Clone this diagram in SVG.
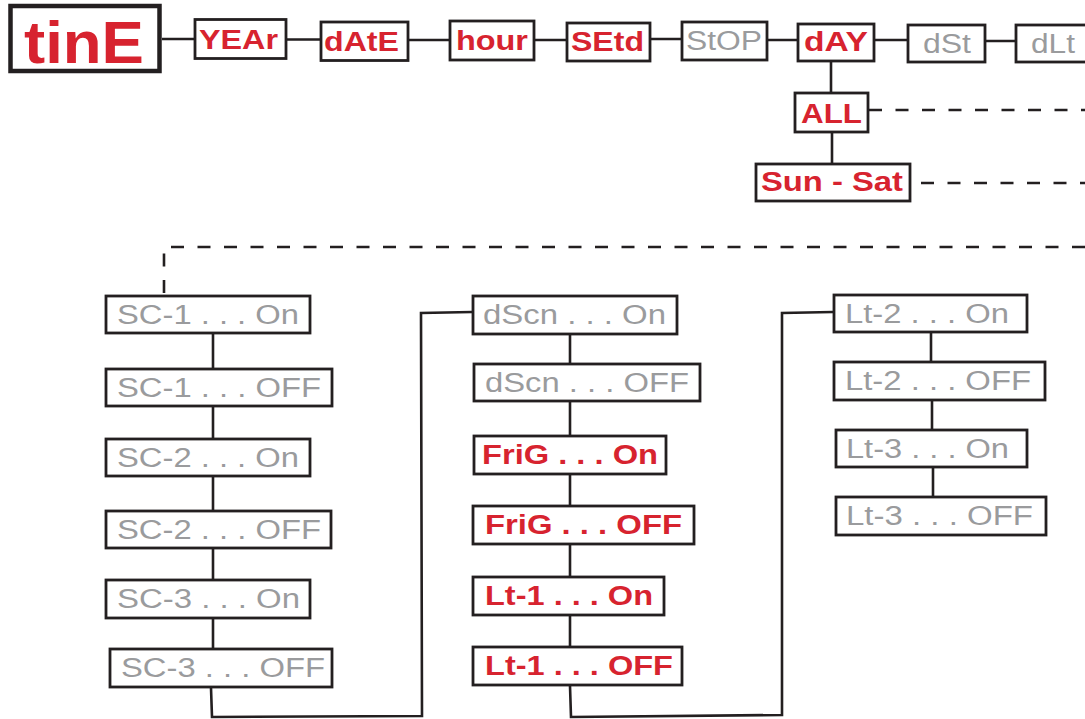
<svg xmlns="http://www.w3.org/2000/svg" width="1085" height="719" viewBox="0 0 1085 719">
<style>
.b{fill:#fff;stroke:#231f20;stroke-width:2.8}
.r{fill:#d7232f;font-family:"Liberation Sans",Arial,sans-serif;font-weight:bold;font-size:27px}
.g{fill:#9a9b9d;font-family:"Liberation Sans",Arial,sans-serif;font-size:27px}
.c{fill:none;stroke:#231f20;stroke-width:2.6}
.d{fill:none;stroke:#231f20;stroke-width:2.6;stroke-dasharray:13 13.5}
</style>
<rect width="1085" height="719" fill="#fff"/>
<g id="connectors">
<path class="c" d="M162 39H194M287 39.5H320M409 40H449M535 40H566M651 39H681M768 40H797M875 40H907M986 41H1015M831 62V92M832 133V163"/>
<path class="d" d="M869 110H1085M921 183H1085"/>
<path class="d" d="M1085 247H164V295"/>
<path class="c" d="M213 334V368M213 407V438M213 477V510M213 549V579M213 619V648"/>
<path class="c" d="M211 688L212 717L422 716L421 313L472 312"/>
<path class="c" d="M570 335V363M570 402V435M570 475V505M570 545V576M570 616V646"/>
<path class="c" d="M570 686L571 717L782 715L782 313L833 312"/>
<path class="c" d="M931 333V361M932 401V429M933 468V496"/>
</g>
<g id="tinE"><rect x="10.5" y="6" width="149" height="65" fill="#fff" stroke="#231f20" stroke-width="4.5"/><text class="r" style="font-size:60px" x="24" y="63" textLength="120" lengthAdjust="spacingAndGlyphs">tinE</text></g>
<g id="YEAr"><rect class="b" x="195" y="19.5" width="91" height="39"/><text class="r" x="199" y="49" textLength="79" lengthAdjust="spacingAndGlyphs">YEAr</text></g>
<g id="dAtE"><rect class="b" x="321" y="22" width="87" height="38.5"/><text class="r" x="324" y="51" textLength="75" lengthAdjust="spacingAndGlyphs">dAtE</text></g>
<g id="hour"><rect class="b" x="450" y="21" width="84" height="39"/><text class="r" x="456" y="50" textLength="72" lengthAdjust="spacingAndGlyphs">hour</text></g>
<g id="SEtd"><rect class="b" x="567" y="23" width="83" height="38"/><text class="r" x="571" y="51" textLength="73" lengthAdjust="spacingAndGlyphs">SEtd</text></g>
<g id="StOP"><rect class="b" x="682" y="22" width="85" height="38"/><text class="g" x="686" y="50" textLength="76" lengthAdjust="spacingAndGlyphs">StOP</text></g>
<g id="dAY"><rect class="b" x="798" y="24" width="76" height="37"/><text class="r" x="804" y="51" textLength="64" lengthAdjust="spacingAndGlyphs">dAY</text></g>
<g id="dSt"><rect class="b" x="908" y="25" width="77" height="37"/><text class="g" x="923" y="53" textLength="48" lengthAdjust="spacingAndGlyphs">dSt</text></g>
<g id="dLt"><rect class="b" x="1016" y="25" width="100" height="37"/><text class="g" x="1031" y="53" textLength="44" lengthAdjust="spacingAndGlyphs">dLt</text></g>
<g id="ALL"><rect class="b" x="795" y="93" width="73" height="39"/><text class="r" x="801" y="123" textLength="61" lengthAdjust="spacingAndGlyphs">ALL</text></g>
<g id="SunSat"><rect class="b" x="756" y="164" width="154" height="37"/><text class="r" x="761" y="191" textLength="142" lengthAdjust="spacingAndGlyphs">Sun - Sat</text></g>
<g id="SC1On"><rect class="b" x="106" y="296" width="204" height="37"/><text class="g" x="117" y="323.5" textLength="182" lengthAdjust="spacingAndGlyphs">SC-1 . . . On</text></g>
<g id="SC1OFF"><rect class="b" x="106" y="369" width="226" height="37"/><text class="g" x="117" y="396.5" textLength="204" lengthAdjust="spacingAndGlyphs">SC-1 . . . OFF</text></g>
<g id="SC2On"><rect class="b" x="106" y="439" width="204" height="37"/><text class="g" x="117" y="466.5" textLength="182" lengthAdjust="spacingAndGlyphs">SC-2 . . . On</text></g>
<g id="SC2OFF"><rect class="b" x="106" y="511" width="225" height="37"/><text class="g" x="117" y="538.5" textLength="204" lengthAdjust="spacingAndGlyphs">SC-2 . . . OFF</text></g>
<g id="SC3On"><rect class="b" x="106" y="580" width="204" height="38"/><text class="g" x="117" y="608" textLength="183" lengthAdjust="spacingAndGlyphs">SC-3 . . . On</text></g>
<g id="SC3OFF"><rect class="b" x="110" y="649" width="222" height="38"/><text class="g" x="121" y="677" textLength="204" lengthAdjust="spacingAndGlyphs">SC-3 . . . OFF</text></g>
<g id="dScnOn"><rect class="b" x="473" y="296" width="204" height="38"/><text class="g" x="483" y="324" textLength="183" lengthAdjust="spacingAndGlyphs">dScn . . . On</text></g>
<g id="dScnOFF"><rect class="b" x="474" y="364" width="226" height="37"/><text class="g" x="485" y="391.5" textLength="204" lengthAdjust="spacingAndGlyphs">dScn . . . OFF</text></g>
<g id="FriGOn"><rect class="b" x="474" y="436" width="192" height="38"/><text class="r" x="482" y="464" textLength="176" lengthAdjust="spacingAndGlyphs">FriG . . . On</text></g>
<g id="FriGOFF"><rect class="b" x="473" y="506" width="221" height="38"/><text class="r" x="485" y="534" textLength="197" lengthAdjust="spacingAndGlyphs">FriG . . . OFF</text></g>
<g id="Lt1On"><rect class="b" x="473" y="577" width="191" height="38"/><text class="r" x="485" y="605" textLength="168" lengthAdjust="spacingAndGlyphs">Lt-1 . . . On</text></g>
<g id="Lt1OFF"><rect class="b" x="473" y="647" width="209" height="38"/><text class="r" x="485" y="675" textLength="188" lengthAdjust="spacingAndGlyphs">Lt-1 . . . OFF</text></g>
<g id="Lt2On"><rect class="b" x="834" y="295" width="193" height="37"/><text class="g" x="845" y="322.5" textLength="164" lengthAdjust="spacingAndGlyphs">Lt-2 . . . On</text></g>
<g id="Lt2OFF"><rect class="b" x="834" y="362" width="211" height="38"/><text class="g" x="845" y="390" textLength="186" lengthAdjust="spacingAndGlyphs">Lt-2 . . . OFF</text></g>
<g id="Lt3On"><rect class="b" x="836" y="430" width="191" height="37"/><text class="g" x="846" y="457.5" textLength="163" lengthAdjust="spacingAndGlyphs">Lt-3 . . . On</text></g>
<g id="Lt3OFF"><rect class="b" x="836" y="497" width="210" height="38"/><text class="g" x="846" y="525" textLength="187" lengthAdjust="spacingAndGlyphs">Lt-3 . . . OFF</text></g>
</svg>
